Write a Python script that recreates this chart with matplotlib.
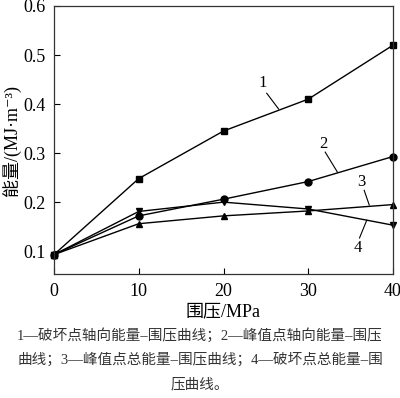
import matplotlib
matplotlib.use('Agg')
import matplotlib.pyplot as plt

plt.rcParams['font.family'] = ['Liberation Serif', 'Noto Sans CJK SC', 'DejaVu Sans']

# confining pressure, MPa
pressure = [0, 10, 20, 30, 40]
# energy, MJ/m3
curve1 = [0.093, 0.248, 0.345, 0.410, 0.520]
curve2 = [0.093, 0.172, 0.206, 0.242, 0.293]
curve3 = [0.093, 0.156, 0.172, 0.182, 0.195]
curve4 = [0.093, 0.181, 0.200, 0.186, 0.153]

xticks = [0, 10, 20, 30, 40]
yticks = [0.1, 0.2, 0.3, 0.4, 0.5, 0.6]

caption = ["1\u2014破坏点轴向能量\u2013围压曲线；2\u2014峰值点轴向能量\u2013围压",
           "曲线；3\u2014峰值点总能量\u2013围压曲线；4\u2014破坏点总能量\u2013围",
           "压曲线。"]

fig = plt.figure(figsize=(4, 3.98), dpi=100)
ax = fig.add_axes([0.135, 0.311, 0.8475, 0.674])

ax.plot(pressure, curve1, color='black', lw=1, marker='s', ms=4.5, clip_on=False)
ax.plot(pressure, curve2, color='black', lw=1, marker='o', ms=5, clip_on=False)
ax.plot(pressure, curve3, color='black', lw=1, marker='^', ms=5, clip_on=False)
ax.plot(pressure, curve4, color='black', lw=1, marker='v', ms=5, clip_on=False)

# curve labels with leader lines
ax.plot([25.1, 26.5], [0.422, 0.390], color='black', lw=0.8)
ax.text(24.6, 0.443, '1', fontsize=12, ha='center', va='center')
ax.plot([32.0, 33.45], [0.302, 0.261], color='black', lw=0.8)
ax.text(31.8, 0.318, '2', fontsize=12, ha='center', va='center')
ax.plot([36.6, 37.2], [0.224, 0.194], color='black', lw=0.8)
ax.text(36.3, 0.241, '3', fontsize=12, ha='center', va='center')
ax.plot([36.05, 36.9], [0.127, 0.163], color='black', lw=0.8)
ax.text(35.8, 0.106, '4', fontsize=12, ha='center', va='center')

ax.set_xlim(0, 40)
ax.set_ylim(0.053, 0.6)
ax.set_xticks(xticks)
ax.set_yticks(yticks)
ax.set_yticklabels(['%.1f' % v for v in yticks])
ax.tick_params(direction='in', length=4, width=0.8, labelsize=13, pad=6)
for s in ax.spines.values():
    s.set_linewidth(0.9)
    s.set_color('#333333')

ax.set_xlabel('围压/MPa', fontsize=13, labelpad=3)
ax.set_ylabel('能量/(MJ·m⁻³)', fontsize=13, labelpad=2)

fig.text(0.5, 1 - 335 / 398, caption[0], ha='center', va='center', fontsize=10.5, color='#333333')
fig.text(0.5, 1 - 360 / 398, caption[1], ha='center', va='center', fontsize=10.5, color='#333333')
fig.text(0.5, 1 - 385 / 398, caption[2], ha='center', va='center', fontsize=10.5, color='#333333')

fig.savefig('out.png', dpi=100)
